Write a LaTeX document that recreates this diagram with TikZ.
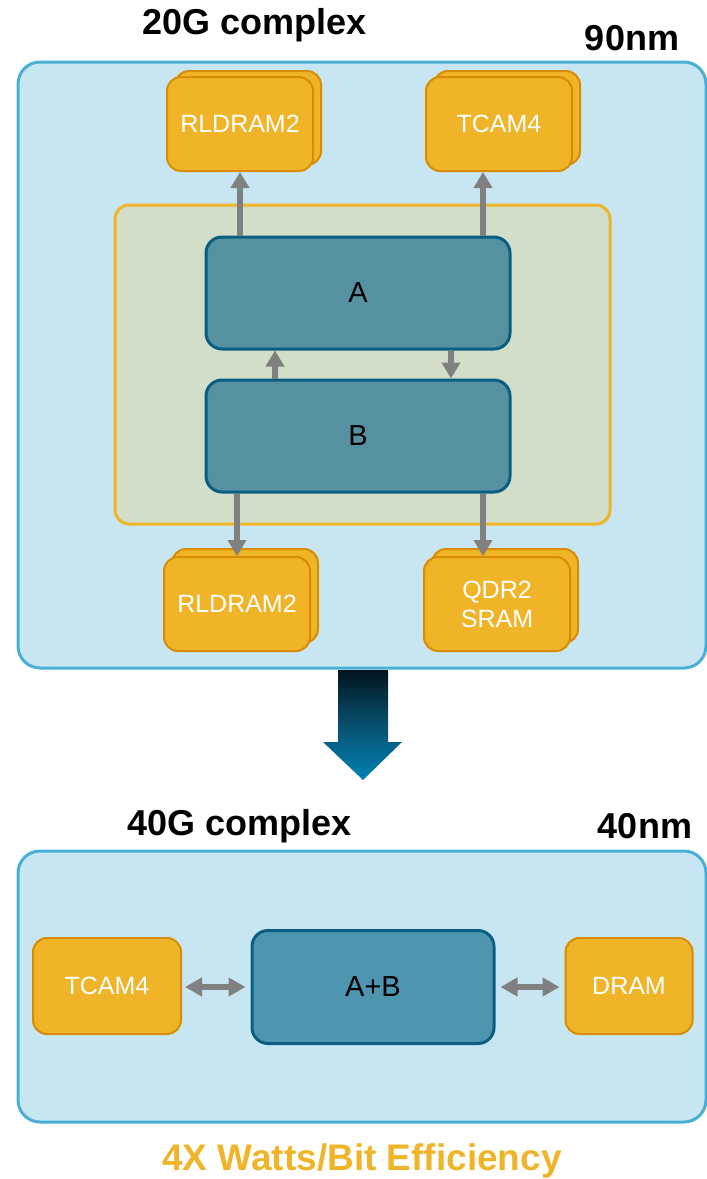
\documentclass[tikz,border=0pt]{standalone}
\usepackage{fontspec}
\setmainfont{Liberation Sans}
\usetikzlibrary{arrows.meta}
\definecolor{outerfill}{HTML}{C8E6F2}
\definecolor{outerline}{HTML}{48AFD5}
\definecolor{orfill}{HTML}{F0B428}
\definecolor{orline}{HTML}{D88C00}
\definecolor{grfill}{HTML}{D2DEC8}
\definecolor{tealfill}{HTML}{5591A1}
\definecolor{tealfillb}{HTML}{4E95AF}
\definecolor{tealline}{HTML}{0A5E82}
\definecolor{arrgray}{HTML}{808080}
\definecolor{darktop}{HTML}{02141E}
\definecolor{bluebot}{HTML}{0083B5}
\tikzset{
  outerbox/.style={draw=outerline, fill=outerfill, line width=3pt, rounded corners=22pt},
  greenbox/.style={draw=orfill, fill=grfill, line width=3pt, rounded corners=14pt},
  membox/.style={draw=orline, fill=orfill, line width=2pt, rounded corners=14pt, text=white, font=\fontsize{25}{29}\selectfont, align=center, inner sep=0pt, minimum width=146pt, minimum height=94pt},
  membackbox/.style={draw=orline, fill=orfill, line width=2pt, rounded corners=14pt, inner sep=0pt, minimum width=146pt, minimum height=94pt},
  procbox/.style={draw=tealline, fill=tealfill, line width=3pt, rounded corners=16pt, font=\fontsize{29}{33}\selectfont, inner sep=0pt, minimum width=304pt, minimum height=112pt},
  arr/.style={draw=arrgray, line width=6pt, -{Triangle[width=18pt,length=16pt]}},
  darr/.style={draw=arrgray, line width=6pt, {Triangle[width=18pt,length=17pt]}-{Triangle[width=18pt,length=17pt]}},
  title/.style={font=\bfseries\fontsize{36}{42}\selectfont, text=black, inner sep=0pt},
}
\begin{document}
\begin{tikzpicture}[x=1pt,y=-1pt]
\useasboundingbox (0,0) rectangle (707,1179);
% top section
\node[title] (t20) at (255,25) {20G complex};
\node[title] (t90) at (632,38) {90nm};
\draw[outerbox] (18,62) rectangle (706,668);
\draw[greenbox] (115,205) rectangle (610,524);
\node[procbox] (A) at (358,293) {A};
\node[procbox] (B) at (358,436) {B};
% memory boxes (stacked)
\node[membackbox] (r1b) at (248,118) {};
\node[membox] (r1) at (240,124) {RLDRAM2};
\node[membackbox] (t1b) at (507,118) {};
\node[membox] (t1) at (499,124) {TCAM4};
\node[membackbox] (r2b) at (245,596) {};
\node[membox] (r2) at (237,604) {RLDRAM2};
\node[membackbox] (q1b) at (505,596) {};
\node[membox] (q1) at (497,604) {QDR2\\SRAM};
% connectors
\draw[arr] (A.north -| r1.south) -- (r1.south);
\draw[arr] (A.north -| 483,0) -- (483,172) coordinate (t1in);
\draw[arr] (B.north -| 275,0) -- (A.south -| 275,0);
\draw[arr] (A.south -| 451,0) -- (B.north -| 451,0);
\draw[arr] (B.south -| r2.north) -- (r2.north);
\draw[arr] (B.south -| 483,0) -- (q1.north -| 483,0);
% big arrow
\shade[top color=darktop, bottom color=bluebot, middle color=tealline!85!black]
  (338,670) -- (388,670) -- (388,742) -- (402,742) -- (363,780) -- (323,742) -- (338,742) -- cycle;
% bottom section
\node[title] (t40) at (240,826) {40G complex};
\node[title] (t40nm) at (645,826) {40nm};
\draw[outerbox] (18,851) rectangle (706,1122);
\node[membox, minimum width=148pt, minimum height=96pt] (tc) at (107,986) {TCAM4};
\node[procbox, fill=tealfillb, minimum width=242pt, minimum height=113pt] (AB) at (373,987) {A+B};
\node[membox, minimum width=127pt, minimum height=96pt] (dr) at (629,986) {DRAM};
\draw[darr] (tc.east |- AB.west) ++(3,0) -- ([xshift=-5pt]AB.west);
\draw[darr] ([xshift=5pt]AB.east) -- ([xshift=-5pt]dr.west |- AB.east);
\node[font=\bfseries\fontsize{37}{43}\selectfont, text=orfill, inner sep=0pt] (eff) at (362,1161) {4X Watts/Bit Efficiency};
\end{tikzpicture}
\end{document}
